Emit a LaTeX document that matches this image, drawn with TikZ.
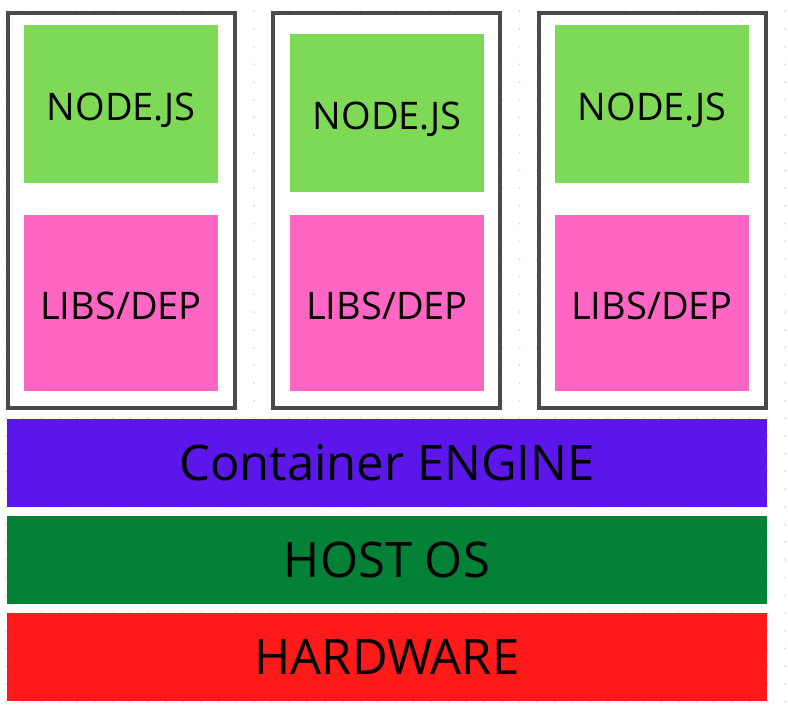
\documentclass[tikz,border=0pt]{standalone}
\usepackage{fontspec}
\setmainfont{Open Sans}
\definecolor{nodegreen}{HTML}{7ED957}
\definecolor{libpink}{HTML}{FF66C4}
\definecolor{engpurple}{HTML}{5B17E9}
\definecolor{hostgreen}{HTML}{038137}
\definecolor{hwred}{HTML}{FF1A1A}
\definecolor{boxgray}{HTML}{4A4A4A}
\definecolor{dotgray}{HTML}{D8D8E0}
\begin{document}
\begin{tikzpicture}[x=1pt,y=-1pt,
  outerbox/.style={draw=boxgray,line width=3.6pt,fill=white},
  inner/.style={inner sep=0pt,outer sep=0pt,font=\fontsize{38}{42}\selectfont,text=black,text height=32pt,text depth=0pt},
  layer/.style={inner sep=0pt,outer sep=0pt,font=\fontsize{49}{54}\selectfont,text=black}]
\useasboundingbox (0,0) rectangle (788,715);
\fill[white] (0,0) rectangle (788,715);
% dot grid
\foreach \i in {0,...,44}{
  \foreach \j in {0,...,40}{
    \fill[dotgray] ({6.2+17.7*\i},{11.2+17.7*\j}) circle (1pt);
  }
}
% containers
\foreach \x in {8,273,539}{
  \draw[outerbox] (\x,13) rectangle ++(227,395);
}
\node[inner,fill=nodegreen,minimum width=194pt,minimum height=158pt] (n1) at (121,104) {NODE.JS};
\node[inner,fill=nodegreen,minimum width=194pt,minimum height=158pt] (n2) at (387,113) {NODE.JS};
\node[inner,fill=nodegreen,minimum width=194pt,minimum height=158pt] (n3) at (652,104) {NODE.JS};
\node[inner,fill=libpink,minimum width=194pt,minimum height=176pt] (l1) at (121,303) {LIBS/DEP};
\node[inner,fill=libpink,minimum width=194pt,minimum height=176pt] (l2) at (387,303) {LIBS/DEP};
\node[inner,fill=libpink,minimum width=194pt,minimum height=176pt] (l3) at (652,303) {LIBS/DEP};
% layers
\node[layer,fill=engpurple,minimum width=760pt,minimum height=88pt] (eng) at (387,463) {Container ENGINE};
\node[layer,fill=hostgreen,minimum width=760pt,minimum height=88pt] (os) at (387,560) {HOST OS};
\node[layer,fill=hwred,minimum width=760pt,minimum height=88pt] (hw) at (387,657) {HARDWARE};
\end{tikzpicture}
\end{document}
